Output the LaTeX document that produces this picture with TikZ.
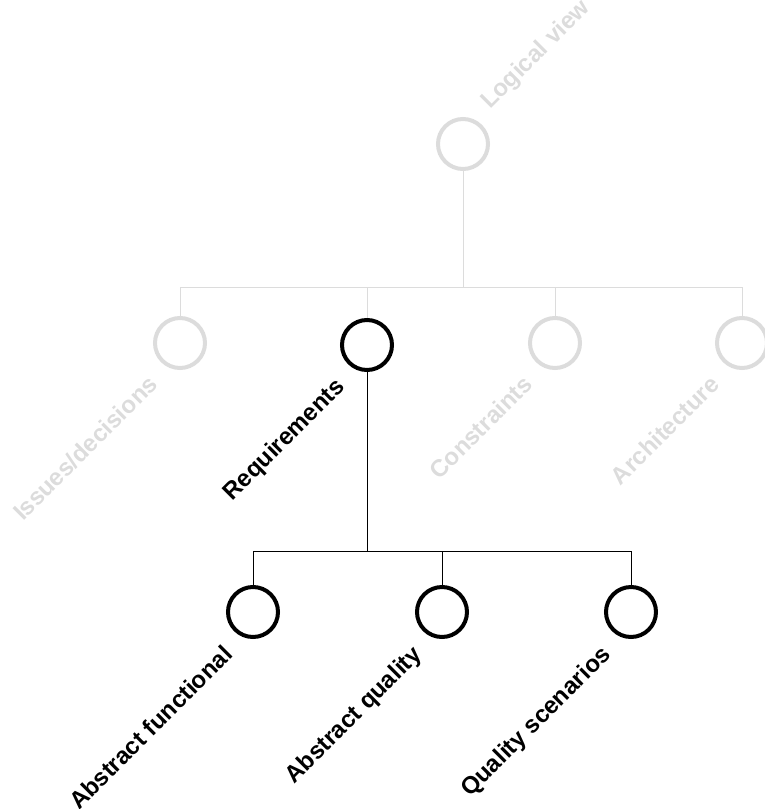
\documentclass[tikz,border=0pt]{standalone}
\usepackage{fontspec}
\setmainfont{Liberation Sans}
\usepackage{tikz}
\definecolor{faded}{HTML}{DCDCDC}
\tikzset{view/.style={circle, draw, line width=4pt, minimum size=50pt, inner sep=0pt},
         viewlbl/.style={rotate=45, inner sep=0pt, font=\fontsize{24}{24}\selectfont\bfseries}}

\begin{document}
\begin{tikzpicture}[x=1pt, y=-1pt]
                \useasboundingbox (0,0) rectangle (764,809);

                \node[view, faded] (logical) at (463,144) {};
                \node[viewlbl, faded, anchor=base west] (logicallbl) at (490,110) {Logical view};

                \coordinate (bus1) at (463,287);

                \node[view, faded] (issues) at (180,343) {};
                \node[view] (req) at (367,345) {};
                \node[view, faded] (constr) at (555,343) {};
                \node[view, faded] (arch) at (742,343) {};

                \draw[faded, line width=1pt] (logical) -- (bus1);
                \draw[faded, line width=1pt] (bus1) -| (issues);
                \draw[faded, line width=1pt] (bus1) -| (req);
                \draw[faded, line width=1pt] (bus1) -| (constr);
                \draw[faded, line width=1pt] (bus1) -| (arch);

                \node[viewlbl, faded, anchor=base east] (issueslbl) at (159,386) {Issues/decisions};
                \node[viewlbl, anchor=base east] (reqlbl) at (346,388) {Requirements};
                \node[viewlbl, faded, anchor=base east] (constrlbl) at (534,386) {Constraints};
                \node[viewlbl, faded, anchor=base east] (archlbl) at (721,386) {Architecture};

                \coordinate (bus2) at (367,551);

                \node[view] (absfun) at (253,612) {};
                \node[view] (absqual) at (442,612) {};
                \node[view] (qualscen) at (631,612) {};

                \draw[line width=1pt] (req) -- (bus2);
                \draw[line width=1pt] (bus2) -| (absfun);
                \draw[line width=1pt] (bus2) -| (absqual);
                \draw[line width=1pt] (bus2) -| (qualscen);

                \node[viewlbl, anchor=base east] (absfunlbl) at (234,656) {Abstract functional};
                \node[viewlbl, anchor=base east] (absquallbl) at (423,656) {Abstract quality};
                \node[viewlbl, anchor=base east] (qualscenlbl) at (612,656) {Quality scenarios};
\end{tikzpicture}
\end{document}
